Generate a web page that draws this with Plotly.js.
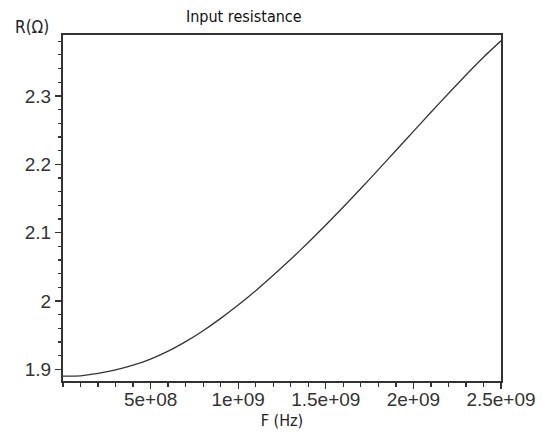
<!DOCTYPE html>
<html>
<head>
<meta charset="utf-8">
<script src="https://cdn.plot.ly/plotly-3.0.1.min.js"></script>
<style>html,body{margin:0;padding:0;background:#fff;}#chart{width:543px;height:438px;}</style>
</head>
<body>
<div id="chart"></div>
<script>
// Frequency (Hz)
var freq = [0, 1e8, 2e8, 3e8, 4e8, 5e8, 6e8, 7e8, 8e8, 9e8, 1.0e9, 1.1e9, 1.2e9, 1.3e9, 1.4e9, 1.5e9, 1.6e9, 1.7e9, 1.8e9, 1.9e9, 2.0e9, 2.1e9, 2.2e9, 2.3e9, 2.4e9, 2.5e9];
// Input resistance R (Ohm)
var resistance = [1.890, 1.8905, 1.894, 1.899, 1.906, 1.915, 1.9265, 1.9405, 1.9565, 1.9745, 1.994, 2.015, 2.0375, 2.061, 2.0855, 2.111, 2.1375, 2.1645, 2.192, 2.220, 2.248, 2.276, 2.3035, 2.3305, 2.3565, 2.3805];
var xTickVals = [5e8, 1e9, 1.5e9, 2e9, 2.5e9];
var xTickText = ['5e+08', '1e+09', '1.5e+09', '2e+09', '2.5e+09'];
var yTickVals = [1.9, 2, 2.1, 2.2, 2.3];
var yTickText = ['1.9', '2', '2.1', '2.2', '2.3'];

var trace = {
  x: freq, y: resistance, type: 'scatter', mode: 'lines',
  line: {color: '#333', width: 1.3, shape: 'spline', smoothing: 0.4}, hoverinfo: 'none'
};
var tickFont = {family: 'Liberation Sans, Arial, sans-serif', size: 19, color: '#333'};
var narrow = 'DejaVu Sans Condensed, Liberation Sans, sans-serif';
var layout = {
  width: 543, height: 438,
  margin: {l: 63, r: 42, t: 35, b: 57},
  paper_bgcolor: '#fff', plot_bgcolor: '#fff',
  showlegend: false,
  title: {text: 'Input resistance', font: {family: narrow, size: 16, color: '#111'},
          x: 0.449, xanchor: 'center', xref: 'container', y: 0.962, yanchor: 'middle', yref: 'container'},
  xaxis: {
    range: [0, 2.5e9], tickmode: 'array', tickvals: xTickVals, ticktext: xTickText,
    ticks: 'outside', ticklen: 6, tickwidth: 1.3, tickcolor: '#333', ticklabelstandoff: -6,
    minor: {dtick: 1e8, ticks: 'outside', ticklen: 4, tickwidth: 1.3, tickcolor: '#333', showgrid: false},
    showline: true, linecolor: '#333', linewidth: 2, mirror: true,
    showgrid: false, zeroline: false, tickfont: tickFont,
    title: {text: 'F (Hz)', font: {family: narrow, size: 16, color: '#222'}, standoff: 6}
  },
  yaxis: {
    range: [1.8829, 2.389], tickmode: 'array', tickvals: yTickVals, ticktext: yTickText,
    ticks: 'outside', ticklen: 6, tickwidth: 1.3, tickcolor: '#333',
    minor: {dtick: 0.02, tick0: 1.9, ticks: 'outside', ticklen: 3, tickwidth: 1.3, tickcolor: '#333', showgrid: false},
    showline: true, linecolor: '#333', linewidth: 2, mirror: true,
    showgrid: false, zeroline: false, tickfont: tickFont
  },
  annotations: [{
    text: 'R(Ω)', xref: 'paper', yref: 'paper', x: (32 - 63) / 438, y: 1 + (35 - 27) / 346,
    xanchor: 'center', yanchor: 'middle', showarrow: false,
    font: {family: narrow, size: 17, color: '#222'}
  }]
};
Plotly.newPlot('chart', [trace], layout, {staticPlot: true, displayModeBar: false});
</script>
</body>
</html>
